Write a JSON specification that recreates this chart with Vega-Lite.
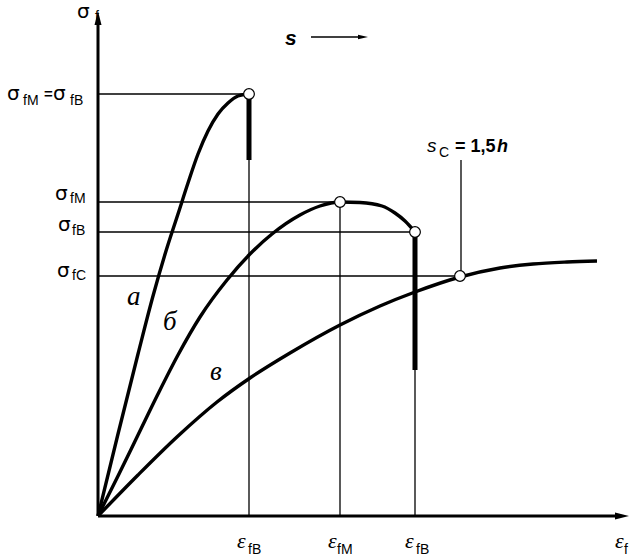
{
  "$schema": "https://vega.github.io/schema/vega-lite/v6.json",
  "width": 637,
  "height": 556,
  "padding": 0,
  "autosize": {"type": "none"},
  "background": "white",
  "config": {"view": {"stroke": null}},
  "datasets": {
    "curves": [
      {"curve": "а", "x": 0, "y": 0}, {"curve": "а", "x": 20, "y": 82}, {"curve": "а", "x": 40, "y": 162},
      {"curve": "а", "x": 55, "y": 220}, {"curve": "а", "x": 68, "y": 265}, {"curve": "а", "x": 80, "y": 302},
      {"curve": "а", "x": 90, "y": 333}, {"curve": "а", "x": 100, "y": 362}, {"curve": "а", "x": 110, "y": 385},
      {"curve": "а", "x": 120, "y": 402}, {"curve": "а", "x": 130, "y": 413}, {"curve": "а", "x": 140, "y": 420},
      {"curve": "а", "x": 151, "y": 422},
      {"curve": "б", "x": 0, "y": 0}, {"curve": "б", "x": 20, "y": 40}, {"curve": "б", "x": 40, "y": 81},
      {"curve": "б", "x": 60, "y": 122}, {"curve": "б", "x": 80, "y": 161}, {"curve": "б", "x": 102, "y": 199},
      {"curve": "б", "x": 129, "y": 236}, {"curve": "б", "x": 152, "y": 262}, {"curve": "б", "x": 174, "y": 282},
      {"curve": "б", "x": 202, "y": 301}, {"curve": "б", "x": 222, "y": 310}, {"curve": "б", "x": 242, "y": 314},
      {"curve": "б", "x": 262, "y": 313.5}, {"curve": "б", "x": 284, "y": 310}, {"curve": "б", "x": 297, "y": 303},
      {"curve": "б", "x": 307, "y": 295}, {"curve": "б", "x": 317, "y": 284},
      {"curve": "в", "x": 0, "y": 0}, {"curve": "в", "x": 40, "y": 41}, {"curve": "в", "x": 80, "y": 80},
      {"curve": "в", "x": 119, "y": 114}, {"curve": "в", "x": 152, "y": 138}, {"curve": "в", "x": 192, "y": 163},
      {"curve": "в", "x": 242, "y": 191}, {"curve": "в", "x": 282, "y": 210}, {"curve": "в", "x": 317, "y": 224},
      {"curve": "в", "x": 362, "y": 239}, {"curve": "в", "x": 402, "y": 248}, {"curve": "в", "x": 435, "y": 252},
      {"curve": "в", "x": 469, "y": 254}, {"curve": "в", "x": 499, "y": 255}
    ],
    "thin": [
      {"x": 0, "y": 422, "x2": 151, "y2": 422},
      {"x": 0, "y": 314, "x2": 242, "y2": 314},
      {"x": 0, "y": 284, "x2": 317, "y2": 284},
      {"x": 0, "y": 240, "x2": 362, "y2": 240},
      {"x": 151, "y": 0, "x2": 151, "y2": 422},
      {"x": 242, "y": 0, "x2": 242, "y2": 314},
      {"x": 317, "y": 0, "x2": 317, "y2": 284},
      {"x": 363, "y": 240, "x2": 363, "y2": 356},
      {"x": 213, "y": 479, "x2": 262, "y2": 479}
    ],
    "thick": [
      {"x": 151, "y": 356, "x2": 151, "y2": 420},
      {"x": 317, "y": 146, "x2": 317, "y2": 282}
    ],
    "axes": [
      {"x": 0, "y": 0, "x2": 0, "y2": 494},
      {"x": 0, "y": 0, "x2": 520, "y2": 0}
    ],
    "circles": [
      {"x": 151, "y": 422}, {"x": 242, "y": 314}, {"x": 317, "y": 284}, {"x": 362, "y": 240}
    ],
    "upArrow": [{"x": 0, "y": 498}],
    "rightArrow": [{"x": 524, "y": 0}],
    "sArrow": [{"x": 265, "y": 479}],
    "sigma": [
      {"t": "σ", "x": -21, "y": 498},
      {"t": "σ", "x": -91, "y": 416},
      {"t": "σ", "x": -45, "y": 416},
      {"t": "σ", "x": -43, "y": 316},
      {"t": "σ", "x": -40, "y": 285},
      {"t": "σ", "x": -41, "y": 239}
    ],
    "eq": [{"t": "=", "x": -54, "y": 417}],
    "eps": [
      {"t": "ε", "x": 139, "y": -32},
      {"t": "ε", "x": 230, "y": -32},
      {"t": "ε", "x": 307, "y": -32},
      {"t": "ε", "x": 517, "y": -32}
    ],
    "sub": [
      {"t": "f", "x": -3, "y": 495},
      {"t": "fM", "x": -75, "y": 411},
      {"t": "fB", "x": -28, "y": 411},
      {"t": "fM", "x": -28, "y": 313},
      {"t": "fB", "x": -26, "y": 281},
      {"t": "fC", "x": -26, "y": 236},
      {"t": "fB", "x": 150, "y": -38},
      {"t": "fM", "x": 239, "y": -38},
      {"t": "fB", "x": 318, "y": -38},
      {"t": "f", "x": 526, "y": -38},
      {"t": "C", "x": 341, "y": 359}
    ],
    "sTop": [{"t": "s", "x": 187, "y": 471}],
    "sItalic": [{"t": "s", "x": 329, "y": 364}],
    "sBold": [{"t": "= 1,5", "x": 357, "y": 364}],
    "hItalic": [{"t": "h", "x": 399, "y": 364}],
    "curveLabels": [
      {"t": "а", "x": 29, "y": 211},
      {"t": "б", "x": 65, "y": 186},
      {"t": "в", "x": 112, "y": 136}
    ]
  },
  "encoding": {
    "x": {"field": "x", "type": "quantitative", "scale": {"domain": [-98, 539], "nice": false, "zero": false}, "axis": null},
    "y": {"field": "y", "type": "quantitative", "scale": {"domain": [-40, 516], "nice": false, "zero": false}, "axis": null}
  },
  "layer": [
    {"data": {"name": "thin"}, "mark": {"type": "rule", "color": "black", "strokeWidth": 1.3},
     "encoding": {"x2": {"field": "x2"}, "y2": {"field": "y2"}}},
    {"data": {"name": "thick"}, "mark": {"type": "rule", "color": "black", "strokeWidth": 5},
     "encoding": {"x2": {"field": "x2"}, "y2": {"field": "y2"}}},
    {"data": {"name": "axes"}, "mark": {"type": "rule", "color": "black", "strokeWidth": 3},
     "encoding": {"x2": {"field": "x2"}, "y2": {"field": "y2"}}},
    {"data": {"name": "curves"}, "mark": {"type": "line", "color": "black", "strokeWidth": 3.4, "interpolate": "monotone"},
     "encoding": {"detail": {"field": "curve"}}},
    {"data": {"name": "circles"}, "mark": {"type": "point", "shape": "circle", "filled": true, "fill": "white", "stroke": "black", "strokeWidth": 1.2, "size": 115, "opacity": 1}},
    {"data": {"name": "upArrow"}, "mark": {"type": "point", "shape": "M-0.5,1L0,-1L0.5,1Z", "filled": true, "color": "black", "size": 196, "opacity": 1}},
    {"data": {"name": "rightArrow"}, "mark": {"type": "point", "shape": "M-1,-0.5L1,0L-1,0.5Z", "filled": true, "color": "black", "size": 196, "opacity": 1}},
    {"data": {"name": "sArrow"}, "mark": {"type": "point", "shape": "M-1,-0.45L1,0L-1,0.45Z", "filled": true, "color": "black", "size": 100, "opacity": 1}},
    {"data": {"name": "sigma"}, "mark": {"type": "text", "font": "DejaVu Sans", "fontSize": 20, "align": "left", "baseline": "alphabetic", "color": "black"},
     "encoding": {"text": {"field": "t"}}},
    {"data": {"name": "eq"}, "mark": {"type": "text", "font": "Liberation Sans", "fontSize": 15, "fontWeight": "bold", "align": "left", "baseline": "alphabetic", "color": "black"},
     "encoding": {"text": {"field": "t"}}},
    {"data": {"name": "eps"}, "mark": {"type": "text", "font": "Liberation Serif", "fontStyle": "italic", "fontSize": 22, "align": "left", "baseline": "alphabetic", "color": "black"},
     "encoding": {"text": {"field": "t"}}},
    {"data": {"name": "sub"}, "mark": {"type": "text", "font": "Liberation Sans", "fontSize": 14, "align": "left", "baseline": "alphabetic", "color": "black"},
     "encoding": {"text": {"field": "t"}}},
    {"data": {"name": "sTop"}, "mark": {"type": "text", "font": "Liberation Sans", "fontSize": 21, "fontWeight": "bold", "fontStyle": "italic", "align": "left", "baseline": "alphabetic", "color": "black"},
     "encoding": {"text": {"field": "t"}}},
    {"data": {"name": "sItalic"}, "mark": {"type": "text", "font": "Liberation Sans", "fontSize": 19, "fontStyle": "italic", "align": "left", "baseline": "alphabetic", "color": "black"},
     "encoding": {"text": {"field": "t"}}},
    {"data": {"name": "sBold"}, "mark": {"type": "text", "font": "Liberation Sans", "fontSize": 18, "fontWeight": "bold", "align": "left", "baseline": "alphabetic", "color": "black"},
     "encoding": {"text": {"field": "t"}}},
    {"data": {"name": "hItalic"}, "mark": {"type": "text", "font": "Liberation Sans", "fontSize": 18, "fontWeight": "bold", "fontStyle": "italic", "align": "left", "baseline": "alphabetic", "color": "black"},
     "encoding": {"text": {"field": "t"}}},
    {"data": {"name": "curveLabels"}, "mark": {"type": "text", "font": "Liberation Serif", "fontStyle": "italic", "fontSize": 27, "align": "left", "baseline": "alphabetic", "color": "black"},
     "encoding": {"text": {"field": "t"}}}
  ]
}
